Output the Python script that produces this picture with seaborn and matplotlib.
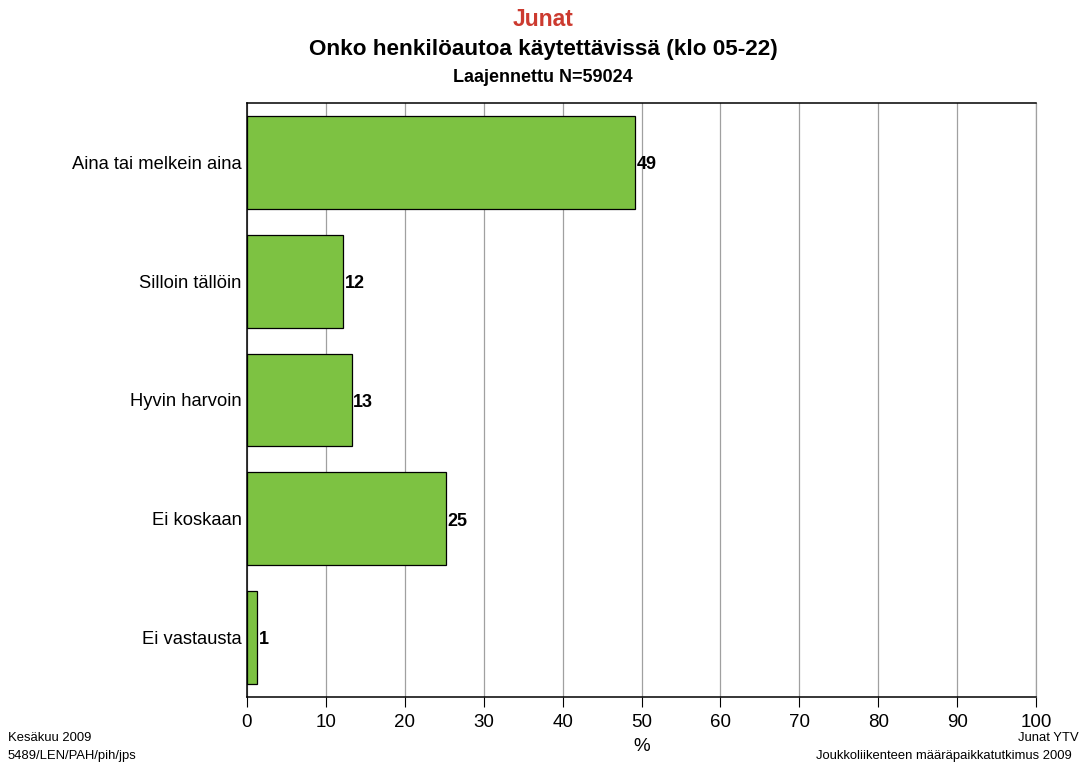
import matplotlib
matplotlib.use("Agg")
import matplotlib.pyplot as plt
import seaborn as sns
import pandas as pd

categories = ["Aina tai melkein aina", "Silloin tällöin", "Hyvin harvoin", "Ei koskaan", "Ei vastausta"]
values = [49.2, 12.2, 13.3, 25.2, 1.3]
xticks = [0, 10, 20, 30, 40, 50, 60, 70, 80, 90, 100]

sns.set_style("white")
plt.rcParams['font.family'] = ['Liberation Sans', 'DejaVu Sans']
plt.rcParams['text.color'] = 'black'
plt.rcParams['axes.labelcolor'] = 'black'
plt.rcParams['xtick.color'] = 'black'
plt.rcParams['ytick.color'] = 'black'

df = pd.DataFrame({"kategoria": categories, "osuus": values})

fig = plt.figure(figsize=(10.86, 7.65), dpi=100)
ax = fig.add_axes([247 / 1086, 1 - 697 / 765, (1036 - 247) / 1086, (697 - 103) / 765])

sns.barplot(data=df, x="osuus", y="kategoria", orient="h", color="#7dc242",
            saturation=1, width=0.78, edgecolor="black", linewidth=0.9, ax=ax)

# arvot palkkien perään
for i, v in enumerate(values):
    ax.text(v + 0.15, i + 0.02, "{0:.0f}".format(v), va="center", ha="left",
            fontsize=13, fontweight="bold", color="black")

ax.set_xlim(0, 100)
ax.set_xticks(xticks)
ax.set_xticklabels([str(t) for t in xticks], fontsize=13.5)
ax.tick_params(axis="x", length=7, width=0.8, color="black", pad=5, bottom=True)
ax.tick_params(axis="y", labelsize=13.2, length=0, pad=4)
ax.set_ylabel("")
ax.set_xlabel("%", fontsize=13.5, labelpad=5)
ax.xaxis.grid(True, color="#a0a0a0", linewidth=0.9)
ax.set_axisbelow(True)
for s in ["left", "bottom", "top"]:
    ax.spines[s].set_color("black")
    ax.spines[s].set_linewidth(1.1)
ax.spines["right"].set_color("#a0a0a0")
ax.spines["right"].set_linewidth(0.9)

fig.text(0.5, 1 - 20 / 765, "Junat", ha="center", va="center", fontsize=16.5,
         fontweight="bold", color="#cc3a2f")
fig.text(0.5, 1 - 49 / 765, "Onko henkilöautoa käytettävissä (klo 05-22)", ha="center",
         va="center", fontsize=16.2, fontweight="bold")
fig.text(0.5, 1 - 78 / 765, "Laajennettu N=59024", ha="center", va="center",
         fontsize=13, fontweight="bold")

fig.text(8 / 1086, 1 - 738 / 765, "Kesäkuu 2009", ha="left", va="center", fontsize=9.4)
fig.text(8 / 1086, 1 - 756 / 765, "5489/LEN/PAH/pih/jps", ha="left", va="center", fontsize=9.4)
fig.text(1079 / 1086, 1 - 738 / 765, "Junat YTV", ha="right", va="center", fontsize=9.4)
fig.text(1072 / 1086, 1 - 756 / 765, "Joukkoliikenteen määräpaikkatutkimus 2009", ha="right",
         va="center", fontsize=9.4)

fig.savefig("out.png", dpi=100, facecolor="white")
